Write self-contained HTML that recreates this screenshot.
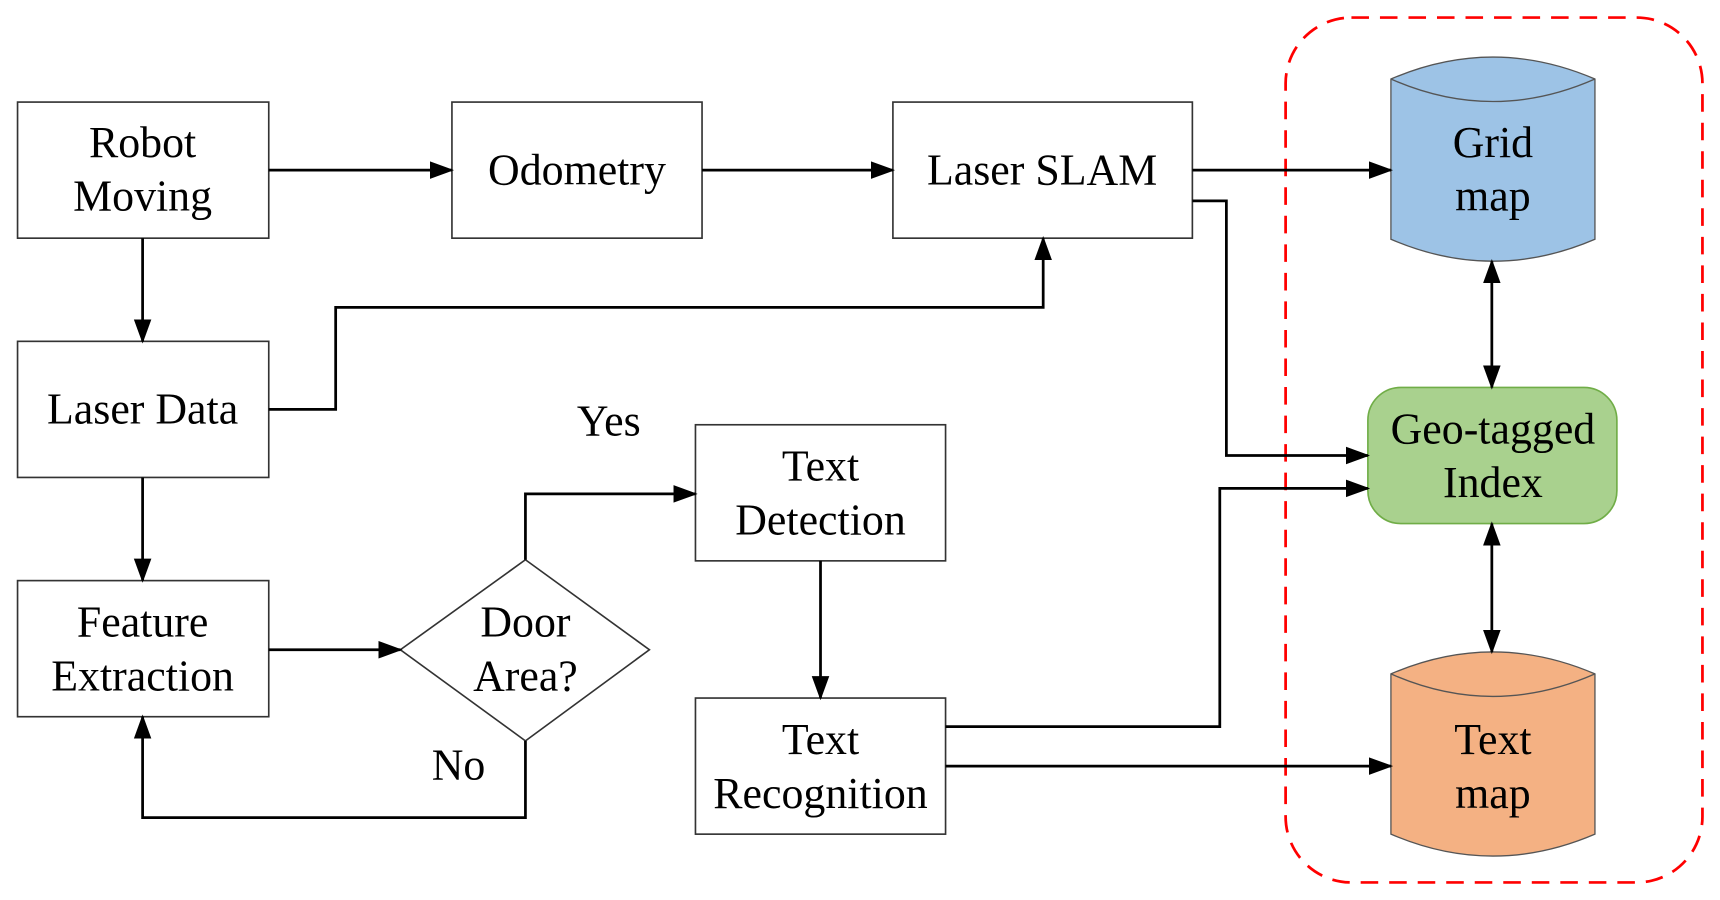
<!DOCTYPE html>
<html><head><meta charset="utf-8"><style>
html,body{margin:0;padding:0;background:#fff;width:1720px;height:900px;overflow:hidden}
svg{display:block}
text{font-family:"Liberation Serif",serif;font-size:40px;fill:#000;text-anchor:middle}
</style></head><body>
<svg width="1720" height="900" viewBox="0 0 1568 820" preserveAspectRatio="none">
<defs>
<marker id="ar" markerWidth="22" markerHeight="22" refX="20" refY="11" orient="auto" markerUnits="userSpaceOnUse" viewBox="0 0 22 22">
<path d="M0,3 L22,11 L0,19 z" fill="#000"/></marker>
<marker id="as" markerWidth="22" markerHeight="22" refX="2" refY="11" orient="auto" markerUnits="userSpaceOnUse" viewBox="0 0 22 22">
<path d="M22,3 L0,11 L22,19 z" fill="#000"/></marker>
</defs>
<rect x="1172" y="16" width="380" height="788" rx="60" fill="none" stroke="#f00" stroke-width="2.5" stroke-dasharray="16,10"/>
<g fill="#fff" stroke="#333" stroke-width="1.5">
<rect x="16" y="93" width="229" height="124"/>
<rect x="412" y="93" width="228" height="124"/>
<rect x="814" y="93" width="273" height="124"/>
<rect x="16" y="311" width="229" height="124"/>
<rect x="16" y="529" width="229" height="124"/>
<rect x="634" y="387" width="228" height="124"/>
<rect x="634" y="636" width="228" height="124"/>
<polygon points="479,510 592,592 479,675 365,592"/>
</g>
<path d="M1268,72 Q1361,32 1454,72 L1454,218 Q1361,258 1268,218 Z" fill="#9dc3e6" stroke="#555" stroke-width="1.2"/>
<path d="M1268,72 Q1361,113 1454,72" fill="none" stroke="#555" stroke-width="1.2"/>
<path d="M1268,614 Q1361,574 1454,614 L1454,760 Q1361,800 1268,760 Z" fill="#f4b183" stroke="#555" stroke-width="1.2"/>
<path d="M1268,614 Q1361,655 1454,614" fill="none" stroke="#555" stroke-width="1.2"/>
<rect x="1247" y="353" width="227" height="124" rx="30" fill="#a9d18e" stroke="#70ad47" stroke-width="1.5"/>
<g fill="none" stroke="#000" stroke-width="2.5">
<path d="M245,155 H412" marker-end="url(#ar)"/>
<path d="M640,155 H814" marker-end="url(#ar)"/>
<path d="M1087,155 H1268" marker-end="url(#ar)"/>
<path d="M1087,183 H1118 V415 H1247" marker-end="url(#ar)"/>
<path d="M245,373 H306 V280 H951 V217" marker-end="url(#ar)"/>
<path d="M130,217 V311" marker-end="url(#ar)"/>
<path d="M130,435 V529" marker-end="url(#ar)"/>
<path d="M245,592 H365" marker-end="url(#ar)"/>
<path d="M479,510 V450 H634" marker-end="url(#ar)"/>
<path d="M479,675 V745 H130 V653" marker-end="url(#ar)"/>
<path d="M748,511 V636" marker-end="url(#ar)"/>
<path d="M862,662 H1112 V445 H1247" marker-end="url(#ar)"/>
<path d="M862,698 H1268" marker-end="url(#ar)"/>
<path d="M1360,238 V353" marker-end="url(#ar)" marker-start="url(#as)"/>
<path d="M1360,477 V594" marker-end="url(#ar)" marker-start="url(#as)"/>
</g>
<text x="130" y="143">Robot</text><text x="130" y="192">Moving</text>
<text x="526" y="168">Odometry</text>
<text x="950" y="168">Laser SLAM</text>
<text x="130" y="386">Laser Data</text>
<text x="130" y="580">Feature</text><text x="130" y="629">Extraction</text>
<text x="479" y="580">Door</text><text x="479" y="629">Area?</text>
<text x="748" y="438">Text</text><text x="748" y="487">Detection</text>
<text x="748" y="687">Text</text><text x="748" y="736">Recognition</text>
<text x="555" y="397">Yes</text>
<text x="418" y="710">No</text>
<text x="1361" y="143">Grid</text><text x="1361" y="192">map</text>
<text x="1361" y="404">Geo-tagged</text><text x="1361" y="453">Index</text>
<text x="1361" y="687">Text</text><text x="1361" y="736">map</text>
</svg>
</body></html>
